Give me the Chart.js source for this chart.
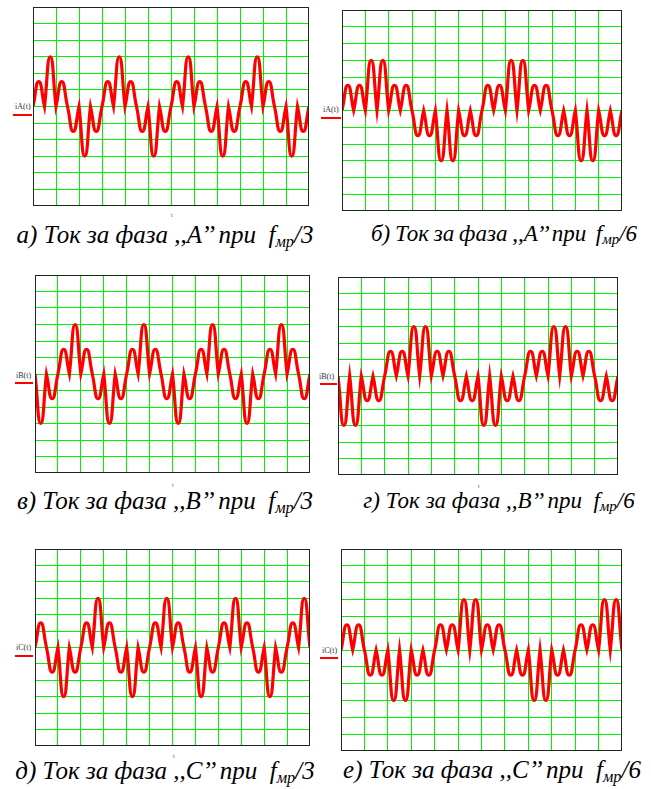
<!DOCTYPE html>
<html>
<head>
<meta charset="utf-8">
<script src="https://cdn.jsdelivr.net/npm/chart.js@4/dist/chart.umd.min.js"></script>
<style>
  html, body { margin: 0; padding: 0; background: #ffffff; }
  body { width: 651px; height: 789px; position: relative; overflow: hidden; }
  .panel { position: absolute; }
  .panel canvas { display: block; }
  .lbl { position: absolute; font-family: "Liberation Serif", serif; font-size: 8px; color: #333; line-height: 8px; white-space: nowrap; }
  .mark { position: absolute; height: 2px; background: #ff0000; }
  .tl { position: absolute; font-family: "Liberation Serif", serif; font-size: 6px; color: #555; line-height: 6px; }
  .cap { position: absolute; font-family: "Liberation Serif", "DejaVu Serif", serif; font-style: italic; color: #000; white-space: nowrap; transform: translateX(-50%); }
  .cap sub { font-size: 0.65em; vertical-align: -0.22em; line-height: 0; }
</style>
</head>
<body>
<script>
// Peak value of each half-wave hump (grid units), 24 humps per panel
const humpsA3 = [1.5, 3, 1.5, -1.5, -3, -1.5, 1.5, 3, 1.5, -1.5, -3, -1.5, 1.5, 3, 1.5, -1.5, -3, -1.5, 1.5, 3, 1.5, -1.5, -3, -1.5];
const humpsA6 = [1.5, 1.5, 3, 3, 1.5, 1.5, -1.5, -1.5, -3, -3, -1.5, -1.5, 1.5, 1.5, 3, 3, 1.5, 1.5, -1.5, -1.5, -3, -3, -1.5, -1.5];
const humpsB3 = [-3, -1.5, 1.5, 3, 1.5, -1.5, -3, -1.5, 1.5, 3, 1.5, -1.5, -3, -1.5, 1.5, 3, 1.5, -1.5, -3, -1.5, 1.5, 3, 1.5, -1.5];
const humpsB6 = [-3, -3, -1.5, -1.5, 1.5, 1.5, 3, 3, 1.5, 1.5, -1.5, -1.5, -3, -3, -1.5, -1.5, 1.5, 1.5, 3, 3, 1.5, 1.5, -1.5, -1.5];
const humpsC3 = [1.5, -1.5, -3, -1.5, 1.5, 3, 1.5, -1.5, -3, -1.5, 1.5, 3, 1.5, -1.5, -3, -1.5, 1.5, 3, 1.5, -1.5, -3, -1.5, 1.5, 3];
const humpsC6 = [1.5, 1.5, -1.5, -1.5, -3, -3, -1.5, -1.5, 1.5, 1.5, 3, 3, 1.5, 1.5, -1.5, -1.5, -3, -3, -1.5, -1.5, 1.5, 1.5, 3, 3];

const traceNames = ["iA(t)", "iA(t)", "iB(t)", "iB(t)", "iC(t)", "iC(t)"];
const captionLetters = ["а)", "б)", "в)", "г)", "д)", "е)"];
const captionPhases = ["A", "A", "B", "B", "C", "C"];
const captionDivisors = ["3", "6", "3", "6", "3", "6"];
const xTicks = { min: 0, max: 24, step: 2 };
const yTicks = { min: -6, max: 6, step: 1 };

// Build the trace: zero at each hump boundary, the read peak at each hump centre.
// A boundary between two humps of the same sign is a cusp, so the zero point is doubled there.
function tracePoints(humps) {
  const pts = [{ x: 0, y: 0 }];
  humps.forEach((v, k) => {
    if (k > 0 && Math.sign(humps[k - 1]) === Math.sign(v)) pts.push({ x: k, y: 0 });
    pts.push({ x: k + 0.5, y: v });
    pts.push({ x: k + 1, y: 0 });
  });
  return pts;
}

const framePlugin = {
  id: 'frame',
  afterDraw(chart) {
    const a = chart.chartArea, c = chart.ctx;
    c.save();
    c.strokeStyle = '#1a2a1a';
    c.lineWidth = 1;
    c.strokeRect(Math.round(a.left) + 0.5, Math.round(a.top) + 0.5, Math.round(a.right - a.left) - 1, Math.round(a.bottom - a.top) - 1);
    c.restore();
  }
};

const panels = [
  { humps: humpsA3, box: [33, 7, 276, 199], lbl: [15, 103], mark: [13, 114, 19], t: [171, 212], cap: [165, 222], fs: 25, ws: 0 },
  { humps: humpsA6, box: [342, 10, 280, 201], lbl: [323, 106], mark: [321, 117, 20], t: null, cap: [504, 222], fs: 23, ws: -1 },
  { humps: humpsB3, box: [35, 275, 275, 198], lbl: [16, 372], mark: [15, 382, 18], t: [172, 482], cap: [165, 488], fs: 25, ws: 0 },
  { humps: humpsB6, box: [338, 277, 280, 198], lbl: [319, 373], mark: [320, 383, 17], t: [478, 483], cap: [499, 489], fs: 23, ws: 0 },
  { humps: humpsC3, box: [35, 549, 275, 197], lbl: [16, 644], mark: [15, 655, 18], t: [173, 753], cap: [165, 758], fs: 25, ws: 0 },
  { humps: humpsC6, box: [341, 549, 281, 202], lbl: [322, 647], mark: [320, 657, 18], t: null, cap: [492, 757], fs: 25, ws: 0 }
];

panels.forEach((p, i) => {
  const wrap = document.createElement('div');
  wrap.className = 'panel';
  wrap.style.left = p.box[0] + 'px';
  wrap.style.top = p.box[1] + 'px';
  const cv = document.createElement('canvas');
  cv.width = p.box[2]; cv.height = p.box[3];
  cv.style.width = p.box[2] + 'px'; cv.style.height = p.box[3] + 'px';
  wrap.appendChild(cv);
  document.body.appendChild(wrap);

  const gridOpts = { color: '#00f000', lineWidth: 1, drawTicks: false };
  new Chart(cv.getContext('2d'), {
    type: 'line',
    data: {
      datasets: [{
        data: tracePoints(p.humps),
        borderColor: '#ff0000',
        borderWidth: 3.2,
        pointRadius: 0,
        tension: 0.55,
        fill: false
      }]
    },
    options: {
      responsive: false,
      animation: false,
      devicePixelRatio: 1,
      layout: { padding: 0 },
      plugins: { legend: { display: false }, tooltip: { enabled: false } },
      scales: {
        x: { type: 'linear', min: xTicks.min, max: xTicks.max, ticks: { display: false, stepSize: xTicks.step }, grid: gridOpts, border: { display: false } },
        y: { type: 'linear', min: yTicks.min, max: yTicks.max, ticks: { display: false, stepSize: yTicks.step }, grid: gridOpts, border: { display: false } }
      }
    },
    plugins: [framePlugin]
  });

  const lbl = document.createElement('div');
  lbl.className = 'lbl';
  lbl.style.left = p.lbl[0] + 'px'; lbl.style.top = p.lbl[1] + 'px';
  lbl.textContent = traceNames[i];
  document.body.appendChild(lbl);

  const mk = document.createElement('div');
  mk.className = 'mark';
  mk.style.left = p.mark[0] + 'px'; mk.style.top = p.mark[1] + 'px'; mk.style.width = p.mark[2] + 'px';
  document.body.appendChild(mk);

  if (p.t) {
    const t = document.createElement('div');
    t.className = 'tl';
    t.style.left = p.t[0] + 'px'; t.style.top = p.t[1] + 'px';
    t.textContent = 't';
    document.body.appendChild(t);
  }

  const cap = document.createElement('div');
  cap.className = 'cap';
  cap.style.left = p.cap[0] + 'px'; cap.style.top = p.cap[1] + 'px';
  cap.style.fontSize = p.fs + 'px';
  cap.style.lineHeight = p.fs + 'px';
  cap.style.wordSpacing = p.ws + 'px';
  cap.innerHTML = captionLetters[i] + ' Ток за фаза ,,' + captionPhases[i] + '’’ при&nbsp; <span>f</span><sub>мр</sub>/' + captionDivisors[i];
  document.body.appendChild(cap);
});
</script>
</body>
</html>
